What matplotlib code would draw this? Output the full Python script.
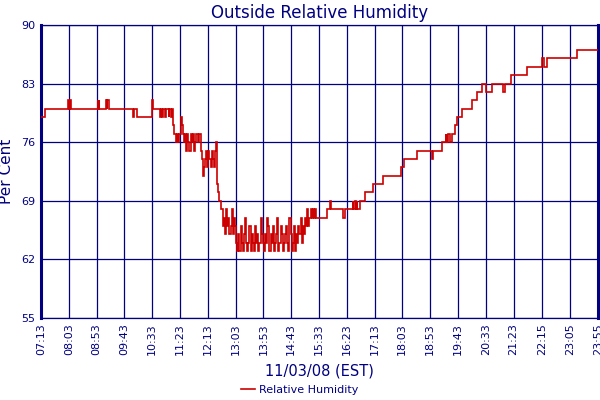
import matplotlib
matplotlib.use("Agg")
import matplotlib.pyplot as plt

# ---------------- data ----------------
x_tick_labels = ["07:13", "08:03", "08:53", "09:43", "10:33", "11:23", "12:13",
                 "13:03", "13:53", "14:43", "15:33", "16:23", "17:13", "18:03",
                 "18:53", "19:43", "20:33", "21:23", "22:15", "23:05", "23:55"]
y_ticks = [55, 62, 69, 76, 83, 90]

morning_times = ["07:13", "07:20", "08:02", "08:03", "08:05", "08:07", "08:55", "08:56",
                 "08:57", "08:58", "09:10", "09:11", "09:12", "09:16", "09:58", "10:00",
                 "10:06", "10:32", "10:33", "10:35", "10:47", "10:49", "10:51", "10:52",
                 "10:56", "10:58", "11:03", "11:04", "11:06", "11:08"]
morning_rh = [79, 80, 81, 80, 81, 80, 81, 80,
              81, 80, 81, 80, 81, 80, 79, 80,
              79, 80, 81, 80, 79, 80, 79, 80,
              79, 80, 79, 80, 79, 80]

# midday section, one reading every 2 minutes from 11:10
midday_start = "11:10"
midday_interval_min = 2
midday_rh = [78, 77, 77, 76, 77, 76, 77,
             79, 78, 77,
             76, 77, 75, 77, 76, 75, 77, 76, 77, 75, 76, 77, 77, 76, 77,
             75, 74, 72, 73, 74,
             75, 73, 75, 74, 73, 75, 74,
             73, 75, 76,
             71, 70, 69, 68,
             68, 66, 67, 65, 68, 66, 67, 65, 66, 68, 65, 67, 66,
             64, 63, 65, 63, 66, 64, 63, 65, 67, 64, 63, 64, 66, 63, 65, 64, 63, 66, 64, 65, 63, 64, 67, 65, 64,
             63, 65, 64, 67, 66, 63, 65, 64, 66, 63, 64, 65, 67, 63, 64, 66, 65, 63, 64, 65, 66, 64, 63, 67, 65,
             63, 64, 66, 63, 65, 64, 66,
             65, 67, 64, 66, 65, 67, 66, 68, 66, 67, 68,
             67, 68, 67, 68, 67, 67, 67]

evening_times = ["15:34", "15:47", "15:52", "15:54", "16:16", "16:20", "16:34", "16:35",
                 "16:38", "16:39", "16:41", "16:42", "16:47", "16:55", "17:10", "17:28",
                 "18:00", "18:06", "18:30", "18:56", "18:58", "19:14", "19:21", "19:22",
                 "19:23", "19:24", "19:25", "19:28", "19:32", "19:37", "19:42", "19:51",
                 "20:08", "20:18", "20:26", "20:34", "20:44", "21:05", "21:08", "21:18",
                 "21:48", "22:15", "22:17", "22:24", "23:18", "23:55"]
evening_rh = [67, 68, 69, 68, 67, 68, 69, 68,
              69, 68, 69, 68, 69, 70, 71, 72,
              73, 74, 75, 74, 75, 76, 77, 76,
              77, 76, 77, 76, 77, 78, 79, 80,
              81, 82, 83, 82, 83, 82, 83, 84,
              85, 86, 85, 86, 87, 87]


def to_min(s):
    h, m = s.split(":")
    return int(h) * 60 + int(m)


t = [to_min(s) for s in morning_times]
v = list(morning_rh)
t0 = to_min(midday_start)
for i, val in enumerate(midday_rh):
    t.append(t0 + i * midday_interval_min)
    v.append(val)
t += [to_min(s) for s in evening_times]
v += evening_rh

# ---------------- style ----------------
NAVY = "#000080"
RED = "#cc0000"

fig = plt.figure(figsize=(6, 4), dpi=100)
ax = fig.add_axes([41 / 600, 1 - 318 / 400, (598 - 41) / 600, (318 - 25) / 400])

ax.plot(t, v, color=RED, lw=1.2, drawstyle="steps-post", label="Relative Humidity",
        solid_joinstyle="miter", zorder=3)

xt = [to_min(s) for s in x_tick_labels]
ax.set_xlim(xt[0], xt[-1])
ax.set_ylim(55, 90)
ax.set_xticks(xt)
ax.set_xticklabels(x_tick_labels, rotation=90, fontsize=8, color=NAVY)
ax.set_yticks(y_ticks)
ax.set_yticklabels([str(y) for y in y_ticks], fontsize=8, color=NAVY)
ax.tick_params(length=0, pad=4)

ax.grid(True, color=NAVY, lw=0.9, zorder=1)
ax.set_axisbelow(True)
for side in ["top", "bottom"]:
    ax.spines[side].set_color(NAVY)
    ax.spines[side].set_linewidth(0.9)
for side in ["left", "right"]:
    ax.spines[side].set_color(NAVY)
    ax.spines[side].set_linewidth(2.2)

ax.set_title("Outside Relative Humidity", color=NAVY, fontsize=12, pad=5)
ax.set_ylabel("Per Cent", color=NAVY, fontsize=11, labelpad=5)
ax.set_xlabel("11/03/08 (EST)", color=NAVY, fontsize=10.5, labelpad=6)

leg = fig.legend(loc="center", bbox_to_anchor=(0.5, 1 - 390 / 400), frameon=False,
                 fontsize=8, handlelength=1.2, handletextpad=0.4)
for txt in leg.get_texts():
    txt.set_color(NAVY)

fig.savefig("out.png", dpi=100)
